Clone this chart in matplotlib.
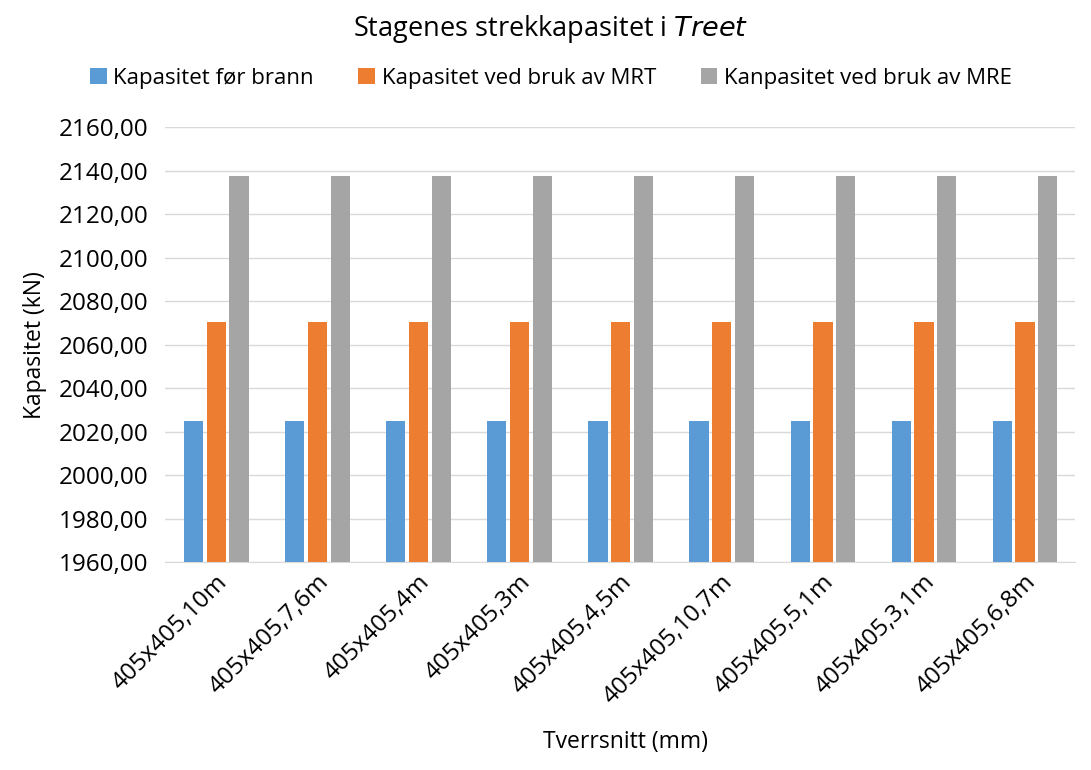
import numpy as np
import matplotlib.pyplot as plt

plt.rcParams['font.family'] = ['Open Sans', 'DejaVu Sans']

# data
categories = ["405x405,10m", "405x405,7,6m", "405x405,4m", "405x405,3m", "405x405,4,5m",
              "405x405,10,7m", "405x405,5,1m", "405x405,3,1m", "405x405,6,8m"]
for_brann = [2025.0] * 9
mrt = [2070.4] * 9
mre = [2137.7] * 9
series_names = ["Kapasitet før brann", "Kapasitet ved bruk av MRT", "Kanpasitet ved bruk av MRE"]
colors = ["#5b9bd5", "#ed7d31", "#a5a5a5"]

fig = plt.figure(figsize=(10.91, 7.7), dpi=100)
ax = fig.add_axes([0.151, 0.270, 0.834, 0.565])

x = np.arange(len(categories))
w = 0.19
step = 0.225
for i, vals in enumerate([for_brann, mrt, mre]):
    ax.bar(x + (i - 1) * step + 0.01, vals, width=w, color=colors[i], label=series_names[i], zorder=3)

ax.set_ylim(1960, 2160)
ax.set_yticks(np.arange(1960, 2161, 20))
ax.set_yticklabels([f"{v:.2f}".replace(".", ",") for v in np.arange(1960, 2161, 20)])
ax.set_xlim(-0.5, len(categories) - 0.5)
ax.set_xticks(x)
ax.set_xticklabels(categories, rotation=45, ha="right", rotation_mode="anchor", fontsize=17.5)
ax.tick_params(axis="y", length=0, labelsize=17.5, colors="black", pad=12)
ax.tick_params(axis="x", length=0, colors="black", pad=6)
ax.grid(axis="y", color="#d9d9d9", linewidth=1, zorder=0)
for s in ["top", "right", "left"]:
    ax.spines[s].set_visible(False)
ax.spines["bottom"].set_color("#d9d9d9")

fig.text(0.032, 0.552, "Kapasitet (kN)", rotation=90, ha="center", va="center", fontsize=16.5)
fig.text(0.573, 0.036, "Tverrsnitt (mm)", ha="center", va="center", fontsize=16.5)

fig.text(0.505, 0.962, "Stagenes strekkapasitet i $\\it{Treet}$", ha="center", va="center", fontsize=19.5)
fig.legend(loc="center", bbox_to_anchor=(0.505, 0.898), ncol=3, frameon=False, fontsize=16,
           handlelength=0.75, handleheight=0.75, columnspacing=2.0, handletextpad=0.3)

fig.savefig("out.png", dpi=100)
